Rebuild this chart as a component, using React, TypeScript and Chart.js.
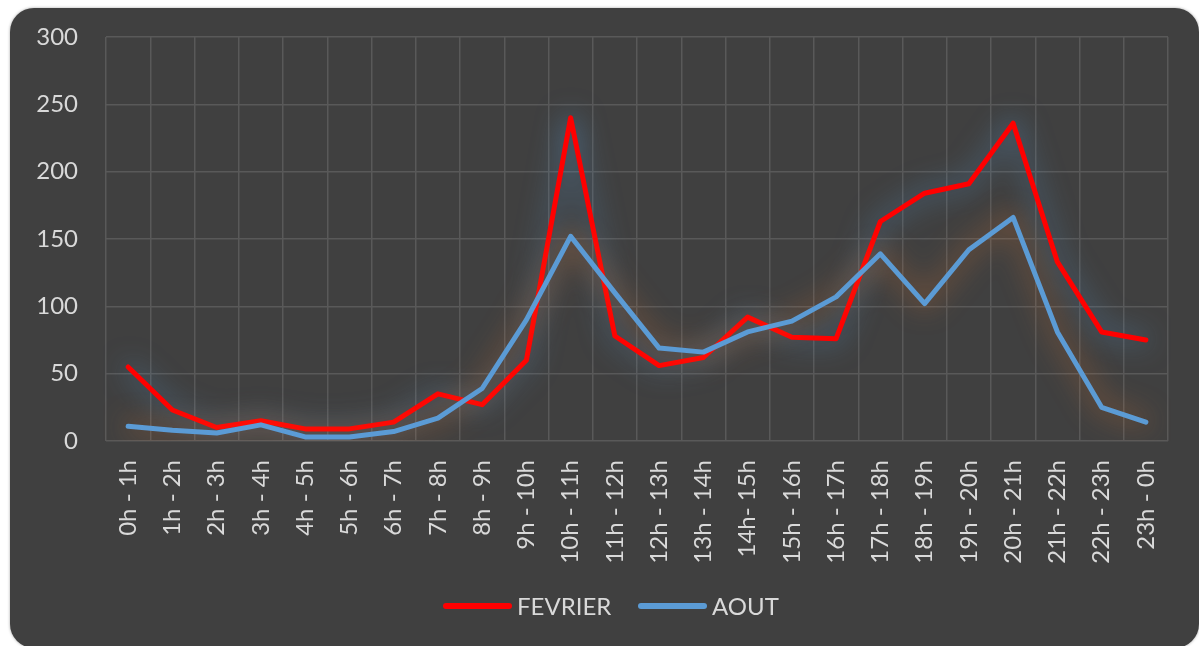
import React, { useEffect, useRef } from "react";
import { Chart, registerables } from "chart.js";

Chart.register(...registerables);

const categories = [
  "0h - 1h", "1h - 2h", "2h - 3h", "3h - 4h", "4h - 5h", "5h - 6h",
  "6h - 7h", "7h - 8h", "8h - 9h", "9h - 10h", "10h - 11h", "11h - 12h",
  "12h - 13h", "13h - 14h", "14h- 15h", "15h - 16h", "16h - 17h", "17h - 18h",
  "18h - 19h", "19h - 20h", "20h - 21h", "21h - 22h", "22h - 23h", "23h - 0h",
];

const fevrier = [55, 23, 10, 15, 9, 9, 14, 35, 27, 60, 240, 78, 56, 62, 92, 77, 76, 163, 184, 191, 236, 133, 81, 75];
const aout = [11, 8, 6, 12, 3, 3, 7, 17, 39, 90, 152, 110, 69, 66, 81, 89, 107, 139, 102, 142, 166, 81, 25, 14];

const yTicks = [0, 50, 100, 150, 200, 250, 300];

const seriesNames = ["FEVRIER", "AOUT"];
const seriesColors = ["#FF0000", "#5B9BD5"];
const glowColors = ["rgba(91,155,213,0.8)", "rgba(237,125,49,0.75)"];

const glowPlugin = {
  id: "glow",
  beforeDatasetDraw(chart: any, args: any) {
    const ctx = chart.ctx;
    ctx.save();
    ctx.shadowColor = glowColors[args.index] || "transparent";
    ctx.shadowBlur = 28;
    ctx.shadowOffsetX = 0;
    ctx.shadowOffsetY = 0;
  },
  afterDatasetDraw(chart: any) {
    chart.ctx.restore();
  },
};

export default function App() {
  const ref = useRef<HTMLCanvasElement | null>(null);

  useEffect(() => {
    if (!ref.current) return;
    const font = { family: "Lato", size: 24 };
    const chart = new Chart(ref.current, {
      type: "line",
      data: {
        labels: categories,
        datasets: [
          {
            label: seriesNames[0],
            data: fevrier,
            borderColor: seriesColors[0],
            backgroundColor: seriesColors[0],
            borderWidth: 5,
            pointRadius: 0,
            borderCapStyle: "round",
            borderJoinStyle: "round",
            tension: 0,
            order: 1,
          },
          {
            label: seriesNames[1],
            data: aout,
            borderColor: seriesColors[1],
            backgroundColor: seriesColors[1],
            borderWidth: 5,
            pointRadius: 0,
            borderCapStyle: "round",
            borderJoinStyle: "round",
            tension: 0,
            order: 0,
          },
        ],
      },
      options: {
        animation: false,
        responsive: false,
        maintainAspectRatio: false,
        layout: { padding: { top: 29, right: 31, bottom: 64, left: 0 } },
        plugins: {
          tooltip: { enabled: false },
          legend: { display: false },
        },
        scales: {
          x: {
            offset: true,
            grid: { offset: true, color: "#595959", lineWidth: 1.5, drawTicks: false },
            border: { display: false },
            ticks: {
              color: "#d9d9d9",
              font,
              minRotation: 90,
              maxRotation: 90,
              padding: 19,
              autoSkip: false,
            },
            afterFit(scale: any) {
              scale.height = 143;
            },
          },
          y: {
            min: 0,
            max: 300,
            afterBuildTicks(scale: any) {
              scale.ticks = yTicks.map((v) => ({ value: v }));
            },
            grid: { color: "#595959", lineWidth: 1.5, drawTicks: false },
            border: { display: false },
            ticks: { color: "#d9d9d9", font, padding: 28 },
            afterFit(scale: any) {
              scale.width = 96;
              scale.paddingTop = 0;
              scale.paddingBottom = 0;
            },
          },
        },
      },
      plugins: [glowPlugin],
    } as any);
    return () => chart.destroy();
  }, []);

  const legendLeft = [433, 628];
  const textStyle: React.CSSProperties = {
    position: "absolute",
    top: 584,
    fontFamily: "Lato",
    fontSize: 24,
    lineHeight: "28px",
    color: "#d9d9d9",
    whiteSpace: "nowrap",
  };

  return (
    <div
      style={{
        position: "fixed",
        left: 10,
        top: 8,
        width: 1189,
        height: 640,
        background: "#404040",
        borderRadius: 24,
        overflow: "hidden",
        boxShadow: "0 0 3px rgba(0,0,0,0.35)",
      }}
    >
      <canvas ref={ref} width={1189} height={640} style={{ display: "block" }} />
      {seriesNames.map((name, i) => (
        <React.Fragment key={name}>
          <div
            style={{
              position: "absolute",
              left: legendLeft[i],
              top: 595,
              width: 69,
              height: 6,
              borderRadius: 3,
              background: seriesColors[i],
            }}
          />
          <div style={{ ...textStyle, left: legendLeft[i] + 74 }}>{name}</div>
        </React.Fragment>
      ))}
    </div>
  );
}
